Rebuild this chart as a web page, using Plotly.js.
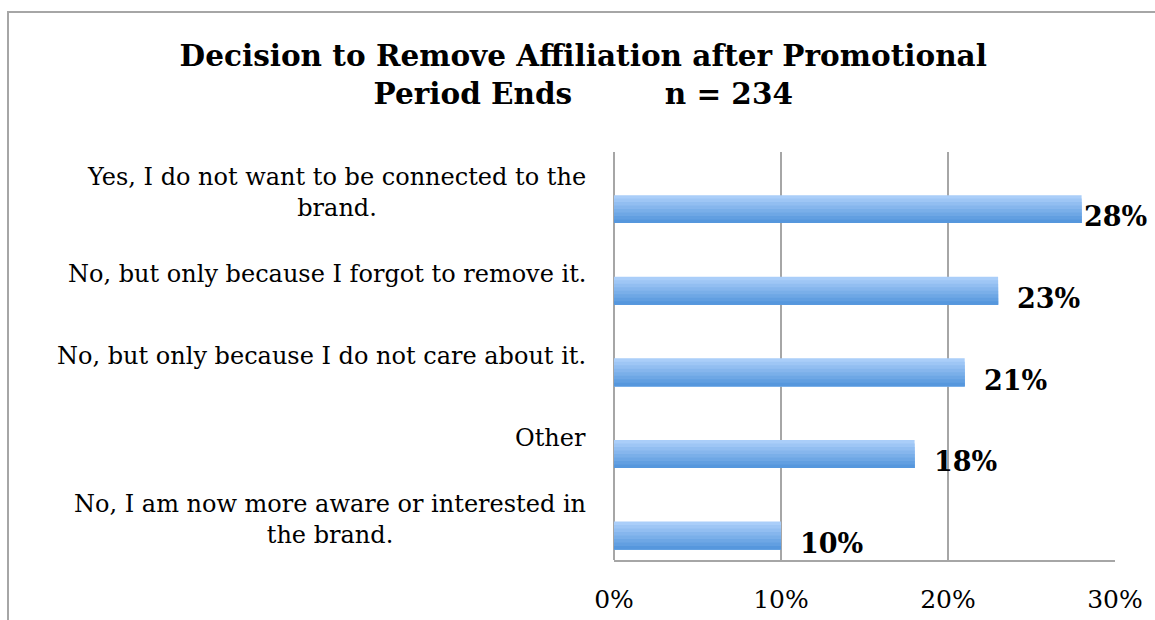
<!DOCTYPE html>
<html>
<head>
<meta charset="utf-8">
<script src="https://cdn.plot.ly/plotly-3.0.1.min.js"></script>
<style>
  html, body { margin: 0; padding: 0; background: #fff; overflow: hidden; }
  #chart { width: 1155px; height: 620px; }
  #frame { position: absolute; left: 7px; top: 11px; width: 3000px; height: 3000px;
           border-left: 2px solid #a6a6a6; border-top: 2px solid #a6a6a6; pointer-events: none; }
</style>
</head>
<body>
<div id="chart"></div>
<div id="frame"></div>
<script>
// ---- data (top-to-bottom as shown) ----
const categories = [
  "Yes, I do not want to be connected to the<br>brand.",
  "No, but only because I forgot to remove it.",
  "No, but only because I do not care about it.",
  "Other",
  "No, I am now more aware or interested in<br>the brand."
];
const shares = [0.28, 0.23, 0.21, 0.18, 0.10];
const xTickVals = [0, 0.1, 0.2, 0.3];
const xTickText = ["0%", "10%", "20%", "30%"];
const titleText = "Decision to Remove Affiliation after Promotional<br>Period Ends\u00a0\u00a0\u00a0\u00a0\u00a0\u00a0\u00a0\u00a0 n = 234";

// ---- styling ----
const barWidth = 0.343;
const barShift = 0.2;      // bars sit below the category centre
const gradTop = [170, 206, 249], gradBot = [86, 151, 221];
const nStrips = 8;
const serif = "DejaVu Serif, Liberation Serif, serif";

const traces = [];
for (let s = 0; s < nStrips; s++) {
  const t = s / (nStrips - 1);
  const c = gradTop.map((v, k) => Math.round(v + (gradBot[k] - v) * t));
  const step = barWidth / nStrips;
  traces.push({
    type: "bar", orientation: "h",
    x: shares, y: categories,
    width: barWidth - s * step,
    offset: barShift - barWidth / 2 + s * step,
    marker: { color: `rgb(${c[0]},${c[1]},${c[2]})`, line: { width: 0 } },
    hoverinfo: "skip", showlegend: false
  });
}

const annotations = [];
categories.forEach((cat, i) => {
  annotations.push({
    xref: "paper", x: 0, yref: "y", y: cat,
    xanchor: "right", yanchor: "middle", xshift: -26,
    align: "center", showarrow: false, text: cat,
    font: { family: serif, size: 24, color: "#000" }
  });
  annotations.push({
    xref: "x", x: shares[i], yref: "y", y: cat,
    xanchor: "left", yanchor: "middle",
    xshift: shares[i] > 0.25 ? 0 : 17, yshift: -24,
    showarrow: false, text: "<b>" + Math.round(shares[i] * 100) + "%</b>",
    font: { family: serif, size: 27, color: "#000" }
  });
});

const layout = {
  width: 1155, height: 620,
  margin: { l: 614, r: 40, t: 152, b: 60 },
  paper_bgcolor: "#fff", plot_bgcolor: "#fff",
  barmode: "overlay",
  title: {
    text: "<b>" + titleText + "</b>",
    xref: "container", x: 0.505, xanchor: "center",
    yref: "container", y: 1 - 66 / 620, yanchor: "top",
    font: { family: serif, size: 29.5, color: "#000" }
  },
  xaxis: {
    range: [0, 0.3], tickvals: xTickVals, ticktext: xTickText,
    showgrid: true, gridcolor: "#a6a6a6", gridwidth: 1.5,
    zeroline: true, zerolinecolor: "#a6a6a6", zerolinewidth: 1.5,
    showline: true, linecolor: "#a6a6a6", linewidth: 1.5,
    ticks: "", ticklabelstandoff: 16,
    tickfont: { family: serif, size: 25, color: "#000" },
    fixedrange: true
  },
  yaxis: {
    type: "category", categoryorder: "array", categoryarray: categories,
    range: [4.5, -0.5], showticklabels: false, showgrid: false,
    zeroline: false, showline: false, ticks: "", fixedrange: true
  },
  annotations: annotations
};

Plotly.newPlot("chart", traces, layout, { displayModeBar: false, staticPlot: true });
</script>
</body>
</html>
